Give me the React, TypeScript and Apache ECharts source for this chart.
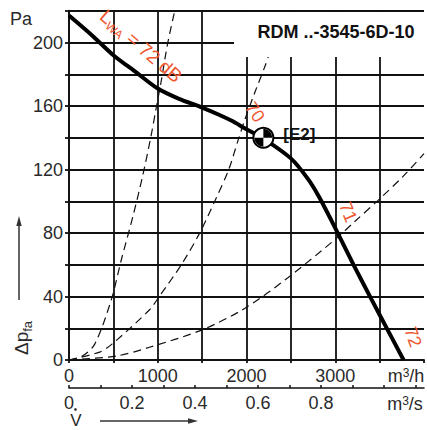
import React, { useEffect, useRef } from "react";
import * as echarts from "echarts";

// Fan characteristic curve (m³/h, Pa)
const fanFlow = [0, 270, 500, 750, 1000, 1240, 1480, 1690, 1840, 1980, 2190, 2500, 2700, 2820, 3010, 3215, 3410, 3590, 3770];
const fanPressure = [217, 204, 192, 181.5, 171, 164.5, 159.5, 154.5, 150.5, 146, 139.5, 127, 113.5, 102.5, 82, 59, 38, 19, 0];

// System curves (dashed)
const sysAFlow = [0, 150, 290, 477, 589, 718, 830, 924, 980, 1040, 1110, 1196];
const sysAPressure = [0, 2.5, 10, 38, 63, 90, 116, 141, 158, 176, 199, 221];
const sysBFlow = [0, 346, 484, 905, 1017, 1277, 1482, 1650, 1800, 1903, 1985, 2097, 2208, 2300];
const sysBPressure = [0, 5, 10, 31.5, 40, 61, 81, 101, 120, 138, 152, 169, 185, 200];
const sysCFlow = [0, 533, 905, 1500, 1980, 2470, 3010, 3215, 3510, 3770, 4000];
const sysCPressure = [0, 2.5, 8, 19, 32.5, 52, 76.5, 87, 102, 116, 130];

// Operating point
const opPoint = [2190, 140];
const opLabel = "[E2]";

const title = "RDM ..-3545-6D-10";
const FONT = "'Liberation Sans', Arial, sans-serif";
const RED = "#ef5630";
const GRID = "#111";
const GW = 1.8;
const TXT = "#2a2a2a";

const QUADRANTS = "path://M0,0 L0,-10 A10,10 0 0 1 10,0 Z M0,0 L0,10 A10,10 0 0 1 -10,0 Z";

const zip = (a: number[], b: number[]) => a.map((v, i) => [v, b[i]]);

export default function App() {
  const ref = useRef<HTMLDivElement>(null);
  useEffect(() => {
    if (!ref.current) return;
    const chart = echarts.init(ref.current, null, { renderer: "svg" });
    const dashed = (data: number[][]) => ({
      type: "line",
      data,
      smooth: 0.3,
      showSymbol: false,
      silent: true,
      lineStyle: { color: "#111", width: 1.2, type: [8, 5] },
      z: 3,
    });
    chart.setOption({
      animation: false,
      backgroundColor: "#fff",
      textStyle: { fontFamily: FONT },
      grid: { left: 69, right: 0, top: 10.75, bottom: 70, containLabel: false },
      xAxis: [
        {
          type: "value",
          min: 0,
          max: 4000,
          interval: 500,
          position: "bottom",
          axisLine: { show: true, lineStyle: { color: GRID, width: GW } },
          axisTick: { show: true, length: 3, lineStyle: { color: GRID, width: GW } },
          splitLine: { show: true, showMaxLine: false, lineStyle: { color: GRID, width: GW } },
          axisLabel: {
            margin: 7,
            fontSize: 18,
            color: TXT,
            fontFamily: FONT,
            formatter: (v: number) => (v % 1000 === 0 && v < 4000 ? String(v) : ""),
          },
        },
        {
          type: "value",
          min: 0,
          max: 1.127,
          interval: 0.1,
          position: "bottom",
          offset: 28,
          axisLine: { show: true, lineStyle: { color: GRID, width: 1.5 } },
          axisTick: { show: true, inside: true, length: 3, lineStyle: { color: GRID, width: 1.5 } },
          splitLine: { show: false },
          axisLabel: {
            margin: 6,
            fontSize: 18,
            color: TXT,
            fontFamily: FONT,
            showMaxLabel: false,
            formatter: (v: number) => {
              const t = Math.round(v * 10);
              if (t % 2 !== 0 || t > 8) return "";
              return t === 0 ? "0" : (t / 10).toFixed(1);
            },
          },
        },
      ],
      yAxis: {
        type: "value",
        min: 0,
        max: 220,
        interval: 20,
        axisLine: { show: true, lineStyle: { color: GRID, width: GW } },
        axisTick: { show: true, length: 4, lineStyle: { color: GRID, width: GW } },
        splitLine: { show: true, lineStyle: { color: GRID, width: GW } },
        axisLabel: {
          margin: 6,
          fontSize: 18,
          color: TXT,
          fontFamily: FONT,
          formatter: (v: number) => (v % 40 === 0 && v <= 200 ? String(v) : ""),
        },
      },
      series: [
        dashed(zip(sysAFlow, sysAPressure)),
        dashed(zip(sysBFlow, sysBPressure)),
        dashed(zip(sysCFlow, sysCPressure)),
        {
          type: "line",
          data: zip(fanFlow, fanPressure),
          smooth: 0.3,
          showSymbol: false,
          silent: true,
          lineStyle: { color: "#000", width: 4 },
          z: 4,
        },
        {
          type: "scatter",
          z: 10,
          silent: true,
          data: [opPoint],
          symbol: "circle",
          symbolSize: 20,
          itemStyle: { color: "#fff", borderColor: "#000", borderWidth: 2, opacity: 1 },
          label: {
            show: true,
            position: "right",
            distance: 9,
            offset: [0, -3.5],
            formatter: opLabel,
            fontSize: 17,
            fontWeight: "bold",
            color: "#111",
            fontFamily: FONT,
          },
        },
        {
          type: "scatter",
          z: 11,
          silent: true,
          data: [opPoint],
          symbol: QUADRANTS,
          symbolSize: 18,
          symbolKeepAspect: true,
          itemStyle: { color: "#000", opacity: 1 },
        },
      ],
      graphic: [
        { type: "rect", z: 50, shape: { x: 234, y: 12, width: 200, height: 45 }, style: { fill: "#fff" } },
        {
          type: "text", z: 51, x: 336, y: 32,
          style: { text: title, fill: "#111", fontSize: 18, fontWeight: "bold", fontFamily: FONT, align: "center", verticalAlign: "middle" },
        },
        {
          type: "text", z: 51, x: 21, y: 19,
          style: { text: "Pa", fill: TXT, fontSize: 18, fontFamily: FONT, align: "center", verticalAlign: "middle" },
        },
        {
          type: "text", z: 51, x: 21, y: 338, rotation: Math.PI / 2,
          style: {
            text: "{a|Δp}{s|fa}",
            align: "center",
            verticalAlign: "middle",
            rich: {
              a: { fontSize: 19, lineHeight: 19, verticalAlign: "top", fill: TXT, fontFamily: FONT },
              s: { fontSize: 13, lineHeight: 13, verticalAlign: "top", padding: [9, 0, 0, 0], fill: TXT, fontFamily: FONT },
            },
          },
        },
        { type: "line", z: 51, shape: { x1: 19, y1: 300, x2: 19, y2: 224 }, style: { stroke: "#333", lineWidth: 1.5 } },
        { type: "polygon", z: 51, shape: { points: [[19, 216], [16.3, 226], [21.7, 226]] }, style: { fill: "#333" } },
        {
          type: "text", z: 51, x: 76, y: 420,
          style: { text: "V", fill: TXT, fontSize: 17, fontFamily: FONT, align: "center", verticalAlign: "middle" },
        },
        { type: "circle", z: 51, shape: { cx: 75.5, cy: 409.5, r: 1.3 }, style: { fill: TXT } },
        { type: "line", z: 51, shape: { x1: 100, y1: 421, x2: 190, y2: 421 }, style: { stroke: "#333", lineWidth: 1.5 } },
        { type: "polygon", z: 51, shape: { points: [[198, 421], [188, 418.3], [188, 423.7]] }, style: { fill: "#333" } },
        {
          type: "text", z: 51, x: 406, y: 376,
          style: {
            text: "{a|m}{b|3}{a|/h}",
            align: "center",
            verticalAlign: "middle",
            rich: {
              a: { fontSize: 18, lineHeight: 18, verticalAlign: "bottom", fill: TXT, fontFamily: FONT },
              b: { fontSize: 12, lineHeight: 12, verticalAlign: "top", fill: TXT, fontFamily: FONT },
            },
          },
        },
        {
          type: "text", z: 51, x: 405, y: 404,
          style: {
            text: "{a|m}{b|3}{a|/s}",
            align: "center",
            verticalAlign: "middle",
            rich: {
              a: { fontSize: 18, lineHeight: 18, verticalAlign: "bottom", fill: TXT, fontFamily: FONT },
              b: { fontSize: 12, lineHeight: 12, verticalAlign: "top", fill: TXT, fontFamily: FONT },
            },
          },
        },
        {
          type: "text", z: 51, x: 141, y: 46, rotation: -0.707,
          style: {
            text: "{a|L}{b|WA}{a| = 72 dB}",
            align: "center",
            verticalAlign: "middle",
            rich: {
              a: { fontSize: 19, lineHeight: 19, verticalAlign: "top", fill: RED, fontFamily: FONT },
              b: { fontSize: 12, lineHeight: 12, verticalAlign: "top", padding: [9, 0, 0, 0], fill: RED, fontFamily: FONT },
            },
          },
        },
        {
          type: "text", z: 51, x: 255, y: 112, rotation: -0.96,
          style: { text: "70", fill: RED, fontSize: 18, fontFamily: FONT, align: "center", verticalAlign: "middle" },
        },
        {
          type: "text", z: 51, x: 348, y: 212, rotation: -1.18,
          style: { text: "71", fill: RED, fontSize: 18, fontFamily: FONT, align: "center", verticalAlign: "middle" },
        },
        {
          type: "text", z: 51, x: 413, y: 337, rotation: -1.22,
          style: { text: "72", fill: RED, fontSize: 18, fontFamily: FONT, align: "center", verticalAlign: "middle" },
        },
      ],
    });
    return () => chart.dispose();
  }, []);
  return <div ref={ref} style={{ position: "fixed", left: 0, top: 0, width: 427, height: 430 }} />;
}
